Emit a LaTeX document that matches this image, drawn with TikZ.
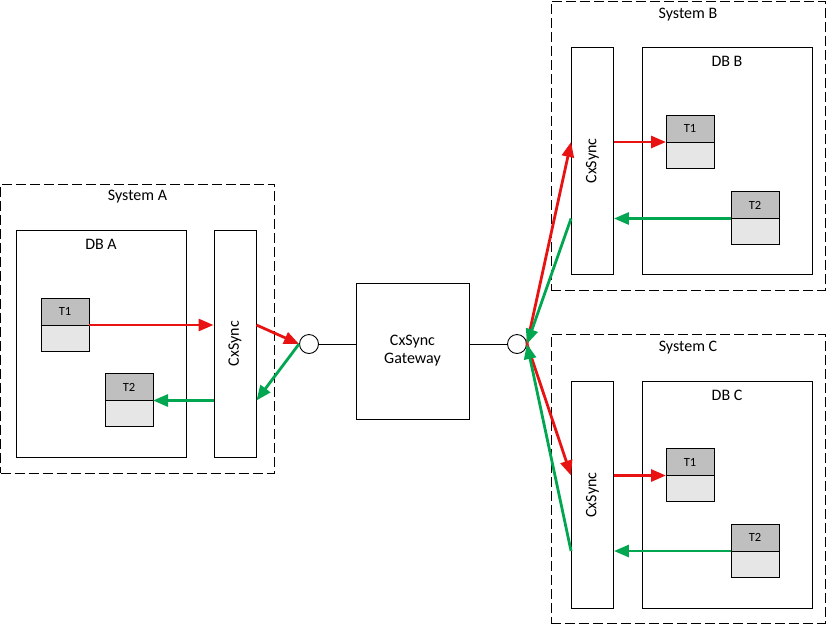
\documentclass[tikz,border=0pt]{standalone}
\usepackage{fontspec}
\setmainfont{Carlito}
\usepackage{xcolor}
\usepackage{tikz}
\usetikzlibrary{arrows.meta, positioning}
\definecolor{syncred}{RGB}{232,18,18}
\definecolor{syncgreen}{RGB}{0,166,80}
\definecolor{hdgray}{RGB}{191,191,191}
\definecolor{bdgray}{RGB}{230,230,230}

\begin{document}
\begin{tikzpicture}[x=1pt, y=-1pt,
  sysbox/.style={draw, dash pattern=on 10pt off 4pt, line width=0.9pt, minimum width=274pt, minimum height=289pt, inner sep=0pt},
  dbbox/.style={draw, line width=0.9pt, minimum width=170pt, minimum height=227pt, inner sep=0pt},
  sync/.style={draw, line width=0.9pt, minimum width=42pt, minimum height=227pt, inner sep=0pt},
  gwbox/.style={draw, line width=0.9pt, minimum width=113pt, minimum height=136pt, align=center, font=\fontsize{16}{18}\selectfont},
  port/.style={draw, circle, line width=0.9pt, minimum size=19pt, inner sep=0pt},
  tabhead/.style={draw, line width=0.9pt, fill=hdgray, minimum width=48pt, minimum height=27pt, inner sep=0pt, outer sep=0pt, font=\fontsize{12.5}{14}\selectfont},
  tabbody/.style={draw, line width=0.9pt, fill=bdgray, minimum width=48pt, minimum height=26pt, inner sep=0pt, outer sep=0pt},
  lbl/.style={font=\fontsize{16}{18}\selectfont},
  redarr/.style={-{Triangle[length=15pt,width=12pt]}, line width=2.8pt, syncred},
  greenarr/.style={-{Triangle[length=15pt,width=12pt]}, line width=2.8pt, syncgreen}
]
\useasboundingbox (0,0) rectangle (826,625);

% System A
\node[sysbox] (sysA) at (137.5,328.5) {};
\node[lbl] at ([yshift=-13pt]sysA.north) {System A};
\node[dbbox] (dbA) at (101,343.5) {};
\node[lbl] at ([yshift=-15pt]dbA.north) {DB A};
\node[sync] (syncA) at (235,343.5) {};
\node[lbl, rotate=90] at (syncA) {CxSync};
\node[tabhead] (t1A) at (65,311.5) {T1};
\node[tabbody, below=0pt of t1A] (t1Ab) {};
\node[tabhead] (t2A) at (129,387) {T2};
\node[tabbody, below=0pt of t2A] (t2Ab) {};

% Gateway
\node[gwbox] (gw) at (412.5,351) {CxSync\\Gateway};
\node[port] (cirL) at (309,344) {};
\node[port] (cirR) at (517,344) {};
\draw[line width=0.9pt] (cirL.east) -- (gw.west |- cirL.east);
\draw[line width=0.9pt] (gw.east |- cirR.west) -- (cirR.west);

% System B
\node[sysbox] (sysB) at (688,145.5) {};
\node[lbl] at ([yshift=-14pt]sysB.north) {System B};
\node[dbbox] (dbB) at (727,161) {};
\node[lbl] at ([yshift=-14pt]dbB.north) {DB B};
\node[sync] (syncB) at (592.5,161) {};
\node[lbl, rotate=90] at (syncB) {CxSync};
\node[tabhead] (t1B) at (690,128.5) {T1};
\node[tabbody, below=0pt of t1B] (t1Bb) {};
\node[tabhead] (t2B) at (755,205) {T2};
\node[tabbody, below=0pt of t2B] (t2Bb) {};

% System C
\node[sysbox] (sysC) at (688,478.5) {};
\node[lbl] at ([yshift=-14pt]sysC.north) {System C};
\node[dbbox] (dbC) at (727,495) {};
\node[lbl] at ([yshift=-14pt]dbC.north) {DB C};
\node[sync] (syncC) at (592.5,495) {};
\node[lbl, rotate=90] at (syncC) {CxSync};
\node[tabhead] (t1C) at (690,462) {T1};
\node[tabbody, below=0pt of t1C] (t1Cb) {};
\node[tabhead] (t2C) at (755,537.5) {T2};
\node[tabbody, below=0pt of t2C] (t2Cb) {};

% flows in System A
\draw[redarr] (t1A.south east) -- (syncA.west |- t1A.south east);
\draw[greenarr] (syncA.west |- t2A.south east) -- (t2A.south east);
\draw[redarr] (syncA.east |- t1A.south east) -- (cirL.west);
\draw[greenarr] (cirL.west) -- (syncA.east |- t2A.south east);

% flows to System B and C
\draw[redarr] (cirR.east) -- (syncB.west |- t1B.south);
\draw[greenarr] (syncB.west |- t2B.south) -- (cirR.east);
\draw[redarr] (cirR.east) -- (syncC.west |- t1C.south);
\draw[greenarr] (syncC.west |- t2C.south) -- (cirR.east);
\draw[redarr] (syncB.east |- t1B.south west) -- (t1B.south west);
\draw[greenarr] (t2B.south west) -- (syncB.east |- t2B.south west);
\draw[redarr] (syncC.east |- t1C.south west) -- (t1C.south west);
\draw[greenarr] (t2C.south west) -- (syncC.east |- t2C.south west);
\end{tikzpicture}
\end{document}
